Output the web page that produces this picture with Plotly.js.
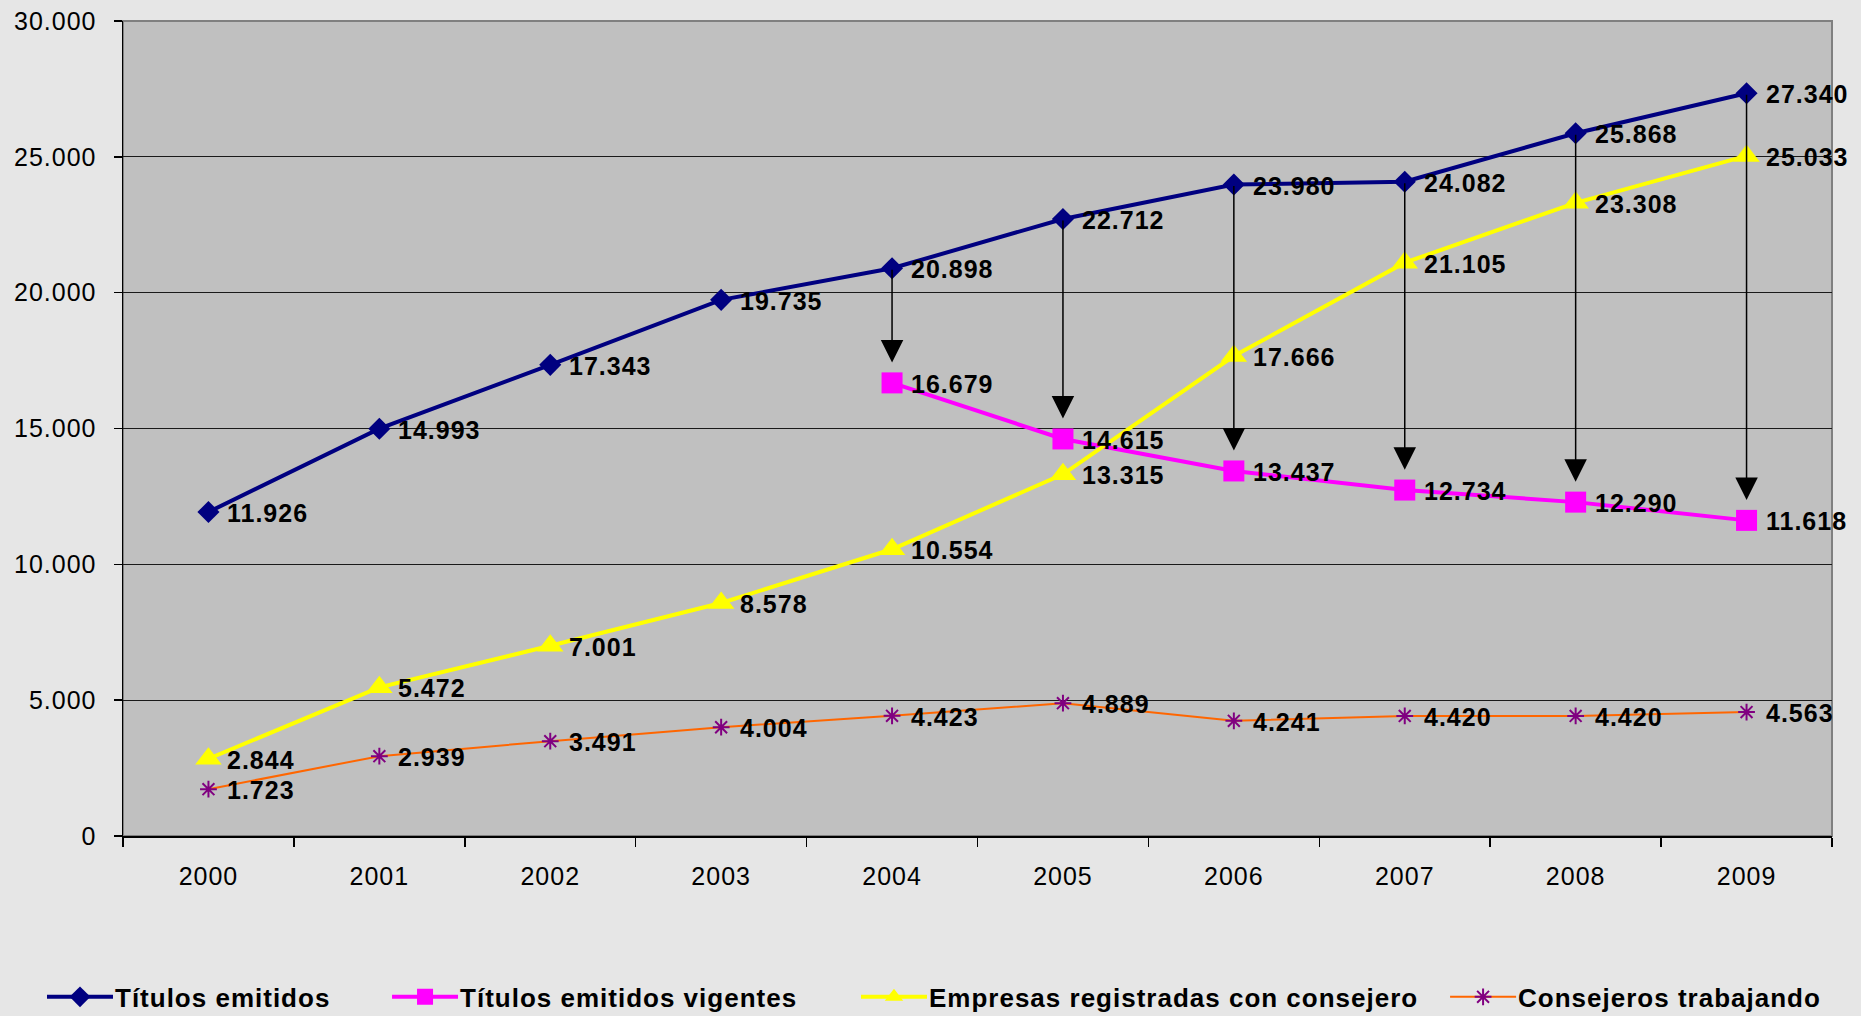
<!DOCTYPE html>
<html>
<head>
<meta charset="utf-8">
<script src="https://cdn.plot.ly/plotly-3.0.1.min.js"></script>
<style>
  html, body { margin: 0; padding: 0; background: #e6e6e6; }
  #chart { width: 1861px; height: 1016px; }
  svg text { letter-spacing: 1px; }
</style>
</head>
<body>
<div id="chart"></div>
<script>
// ---- Data ----
const years = ['2000','2001','2002','2003','2004','2005','2006','2007','2008','2009'];
const titulosEmitidos = [11926, 14993, 17343, 19735, 20898, 22712, 23980, 24082, 25868, 27340];
const titulosVigentes = [null, null, null, null, 16679, 14615, 13437, 12734, 12290, 11618];
const empresasConsejero = [2844, 5472, 7001, 8578, 10554, 13315, 17666, 21105, 23308, 25033];
const consejerosTrabajando = [1723, 2939, 3491, 4004, 4423, 4889, 4241, 4420, 4420, 4563];
const seriesNames = ['Títulos emitidos', 'Títulos emitidos vigentes', 'Empresas registradas con consejero', 'Consejeros trabajando'];

// ---- Styling ----
const FONT = "'Liberation Sans Narrow', 'Arial Narrow', 'Liberation Sans', Arial, sans-serif";
const labelFont = { family: FONT, size: 25, color: '#000000', weight: 'bold' };
const ARROW_GAP = 750;
const LEGEND_LINE = 66;

function fmt(n) {
  if (n === null || n === undefined) return '';
  return String(n).replace(/\B(?=(\d{3})+(?!\d))/g, '.');
}

const traces = [
  {
    x: years, y: titulosEmitidos, name: seriesNames[0], type: 'scatter', mode: 'lines+markers',
    line: { color: '#000080', width: 4 },
    marker: { symbol: 'diamond', size: 17, color: '#000080' },
    legend: 'legend', cliponaxis: false
  },
  {
    x: years, y: titulosVigentes, name: seriesNames[1], type: 'scatter', mode: 'lines+markers',
    line: { color: '#FF00FF', width: 4 },
    marker: { symbol: 'square', size: 21, color: '#FF00FF' },
    legend: 'legend2', cliponaxis: false
  },
  {
    x: years, y: empresasConsejero, name: seriesNames[2], type: 'scatter', mode: 'lines+markers',
    line: { color: '#FFFF00', width: 4 },
    marker: { symbol: 'triangle-up', size: 23, color: '#FFFF00' },
    legend: 'legend3', cliponaxis: false
  },
  {
    x: years, y: consejerosTrabajando, name: seriesNames[3], type: 'scatter', mode: 'lines+markers',
    line: { color: '#FF6600', width: 2 },
    marker: { symbol: 'asterisk-open', size: 14, color: '#800080', line: { color: '#800080', width: 2 } },
    legend: 'legend4', cliponaxis: false
  }
];

const annotations = [];
// Arrows from "Títulos emitidos" down to "Títulos emitidos vigentes"
years.forEach((yr, i) => {
  if (titulosVigentes[i] === null) return;
  annotations.push({
    x: i, y: titulosVigentes[i] + ARROW_GAP, xref: 'x', yref: 'y',
    ax: i, ay: titulosEmitidos[i], axref: 'x', ayref: 'y',
    text: '', showarrow: true, arrowhead: 2, arrowsize: 3, arrowwidth: 1.5,
    arrowcolor: '#000000', standoff: 0, startstandoff: 0
  });
});
// Data labels, to the right of each point
[titulosEmitidos, titulosVigentes, empresasConsejero, consejerosTrabajando].forEach(series => {
  series.forEach((v, i) => {
    if (v === null) return;
    annotations.push({
      x: i, y: v, xref: 'x', yref: 'y', text: fmt(v), showarrow: false,
      xanchor: 'left', yanchor: 'middle', xshift: 17, yshift: -1, font: labelFont
    });
  });
});

const legendFont = { family: FONT, size: 26, color: '#000000', weight: 'bold' };
function legendAt(x) {
  return { orientation: 'h', x: x, xanchor: 'left', y: -0.1975, yanchor: 'middle',
           bgcolor: 'rgba(0,0,0,0)', borderwidth: 0, font: legendFont, itemwidth: LEGEND_LINE - 3 };
}

const layout = {
  width: 1861, height: 1016,
  paper_bgcolor: '#e6e6e6', plot_bgcolor: '#c0c0c0',
  margin: { l: 123, r: 29, t: 21, b: 180, pad: 0, autoexpand: false },
  separators: ',.',
  showlegend: true,
  font: { family: FONT, size: 25, color: '#000000' },
  xaxis: {
    type: 'category', range: [-0.5, 9.5], tickson: 'boundaries',
    ticks: 'outside', ticklen: 9, tickwidth: 1.5, tickcolor: '#000000',
    showline: true, linecolor: '#000000', linewidth: 1.5, showgrid: false,
    tickfont: { family: FONT, size: 25, color: '#000000' }, ticklabelstandoff: 17
  },
  yaxis: {
    range: [0, 30000], dtick: 5000, tick0: 0, tickformat: ',d',
    ticks: 'outside', ticklen: 8, tickwidth: 1.5, tickcolor: '#000000',
    showline: true, linecolor: '#000000', linewidth: 1.5,
    showgrid: true, gridcolor: '#1a1a1a', gridwidth: 1, zeroline: false,
    tickfont: { family: FONT, size: 25, color: '#000000' }, ticklabelstandoff: 12
  },
  shapes: [{
    type: 'rect', xref: 'paper', yref: 'paper', x0: 0, x1: 1, y0: 0, y1: 1,
    line: { color: '#808080', width: 2 }, layer: 'below'
  }],
  annotations: annotations,
  legend: legendAt(-0.0474),
  legend2: legendAt(0.1545),
  legend3: legendAt(0.4289),
  legend4: legendAt(0.7736)
};

Plotly.newPlot('chart', traces, layout, { displayModeBar: false, staticPlot: true }).then(gd => {
  // Lengthen the legend line samples and centre the markers on them (Excel style)
  gd.querySelectorAll('.legendlines path').forEach(p => {
    p.setAttribute('d', 'M5,0h' + LEGEND_LINE);
  });
  gd.querySelectorAll('.legendpoints path').forEach(p => {
    p.setAttribute('transform', 'translate(' + (5 + LEGEND_LINE / 2) + ',0)');
  });
});
</script>
</body>
</html>
